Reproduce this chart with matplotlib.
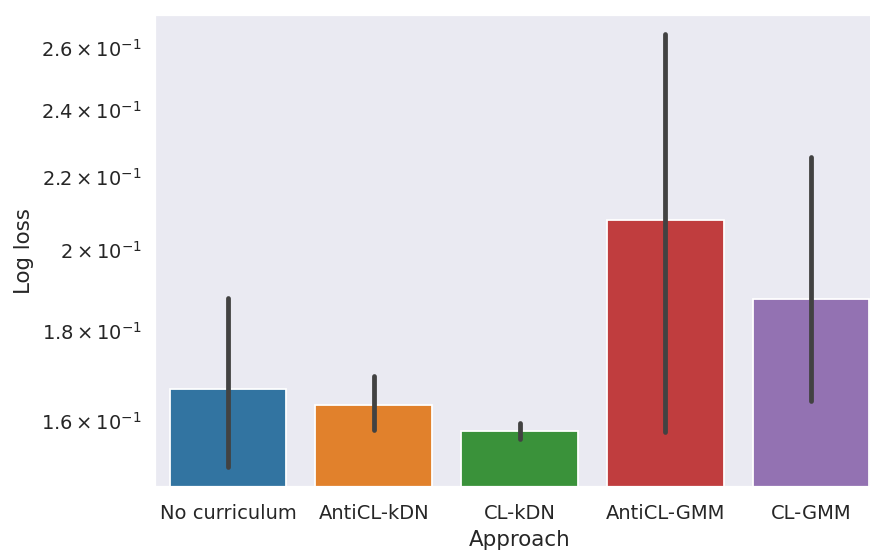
import numpy as np
import matplotlib
matplotlib.use("Agg")
from matplotlib import pyplot as plt
import seaborn as sns

approaches = ["No curriculum", "AntiCL-kDN", "CL-kDN", "AntiCL-GMM", "CL-GMM"]
mean_loss = [0.1668, 0.1634, 0.1579, 0.2078, 0.1875]
ci_low = [0.1507, 0.1581, 0.1563, 0.1577, 0.1641]
ci_high = [0.1878, 0.1697, 0.1596, 0.2648, 0.2256]

sns.set_theme(style="darkgrid")
colors = sns.color_palette("tab10", len(approaches), desat=0.75)

dpi = 128
fig = plt.figure(figsize=(870 / dpi, 554 / dpi), dpi=dpi)
ax = fig.add_axes([155 / 870, 67 / 554, 729 / 870, 472 / 554])

x = np.arange(len(approaches))
ax.bar(x, mean_loss, width=0.8, color=colors, edgecolor="white", linewidth=1)
err = ax.vlines(x, ci_low, ci_high, color=".26", linewidth=2.7, zorder=3)
err.set_capstyle("round")

ax.set_yscale("log")
ax.set_ylim(0.1468, 0.2715)
ax.set_xlim(-0.5, len(approaches) - 0.5)
ax.set_xticks(x)
ax.set_xticklabels(approaches)
ax.set_xlabel("Approach")
ax.set_ylabel("Log loss")
ax.grid(False, axis="x")

fig.savefig("out.png", dpi=dpi)
